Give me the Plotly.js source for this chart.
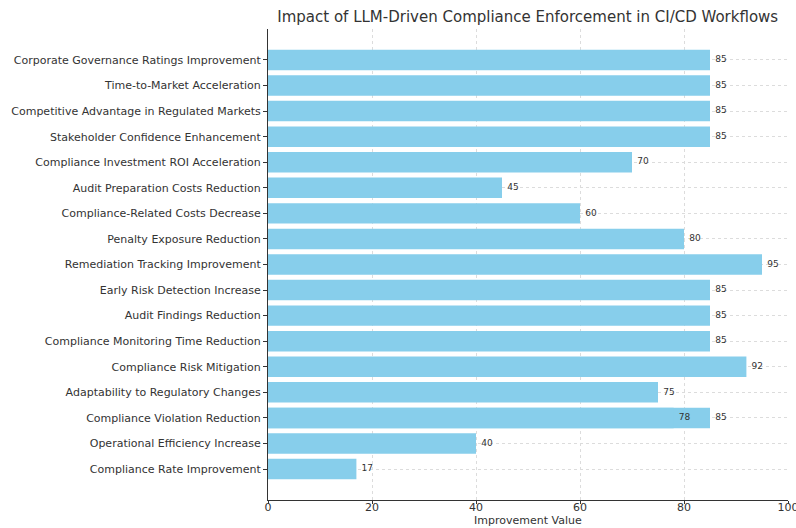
<!DOCTYPE html>
<html><head><meta charset="utf-8">
<script src="https://cdn.plot.ly/plotly-3.0.1.min.js"></script>
<style>html,body{margin:0;padding:0;background:#fff}#chart{width:796px;height:528px}</style>
</head><body><div id="chart"></div>
<script>
const categories = [
  "Compliance Rate Improvement",
  "Operational Efficiency Increase",
  "Compliance Violation Reduction",
  "Adaptability to Regulatory Changes",
  "Compliance Risk Mitigation",
  "Compliance Monitoring Time Reduction",
  "Audit Findings Reduction",
  "Early Risk Detection Increase",
  "Remediation Tracking Improvement",
  "Penalty Exposure Reduction",
  "Compliance-Related Costs Decrease",
  "Audit Preparation Costs Reduction",
  "Compliance Investment ROI Acceleration",
  "Stakeholder Confidence Enhancement",
  "Competitive Advantage in Regulated Markets",
  "Time-to-Market Acceleration",
  "Corporate Governance Ratings Improvement"
];
const values = [17, 40, 85, 75, 92, 85, 85, 85, 95, 80, 60, 45, 70, 85, 85, 85, 85];
const extraCategories = ["Compliance Violation Reduction"];
const extraValues = [78];
const xTicks = [0, 20, 40, 60, 80, 100];

const barColor = "#87CEEB";
const allCats = categories.concat(extraCategories);
const allVals = values.concat(extraValues);

const data = [
  {type: "bar", orientation: "h", y: categories, x: values, width: 0.8,
   marker: {color: barColor}, hoverinfo: "x+y"},
  {type: "bar", orientation: "h", y: extraCategories, x: extraValues, width: 0.8,
   marker: {color: barColor}, hoverinfo: "x+y"},
  {type: "scatter", mode: "text", y: allCats, x: allVals.map(v => v + 1),
   text: allVals.map(String), textposition: "middle right",
   textfont: {family: "DejaVu Sans", size: 9, color: "#333"}, hoverinfo: "skip", cliponaxis: false}
];

const layout = {
  width: 796, height: 528,
  margin: {l: 268, r: 8, t: 29, b: 28},
  paper_bgcolor: "#fff", plot_bgcolor: "#fff",
  barmode: "overlay", showlegend: false,
  font: {family: "DejaVu Sans", color: "#333"},
  title: {text: "Impact of LLM-Driven Compliance Enforcement in CI/CD Workflows",
          font: {size: 15, color: "#333"}, x: 0.663, xanchor: "center", y: 0.968, yanchor: "middle"},
  xaxis: {range: [0, 100], tickvals: xTicks, ticktext: xTicks.map(String),
          showgrid: true, gridcolor: "#dcdcdc", griddash: "dot", gridwidth: 1,
          showline: true, linecolor: "#333", linewidth: 1, ticks: "outside", ticklen: 3, tickcolor: "#333",
          zeroline: false, tickfont: {size: 11, color: "#333"}, ticklabeloverflow: "allow",
          ticklabelstandoff: -6, automargin: false},
  yaxis: {type: "category", categoryorder: "array", categoryarray: categories,
          range: [-1.21, 17.21],
          showgrid: true, gridcolor: "#dcdcdc", griddash: "dot", gridwidth: 1,
          showline: true, linecolor: "#333", linewidth: 1, ticks: "outside", ticklen: 4, tickcolor: "#333",
          zeroline: false, tickfont: {size: 11, color: "#333"}, automargin: false},
  annotations: [{text: "Improvement Value", xref: "paper", yref: "paper", x: 0.5, y: -0.062,
                 xanchor: "center", yanchor: "bottom", showarrow: false,
                 font: {size: 11, color: "#333"}}]
};

Plotly.newPlot("chart", data, layout, {displayModeBar: false, staticPlot: true});
</script>
</body></html>
